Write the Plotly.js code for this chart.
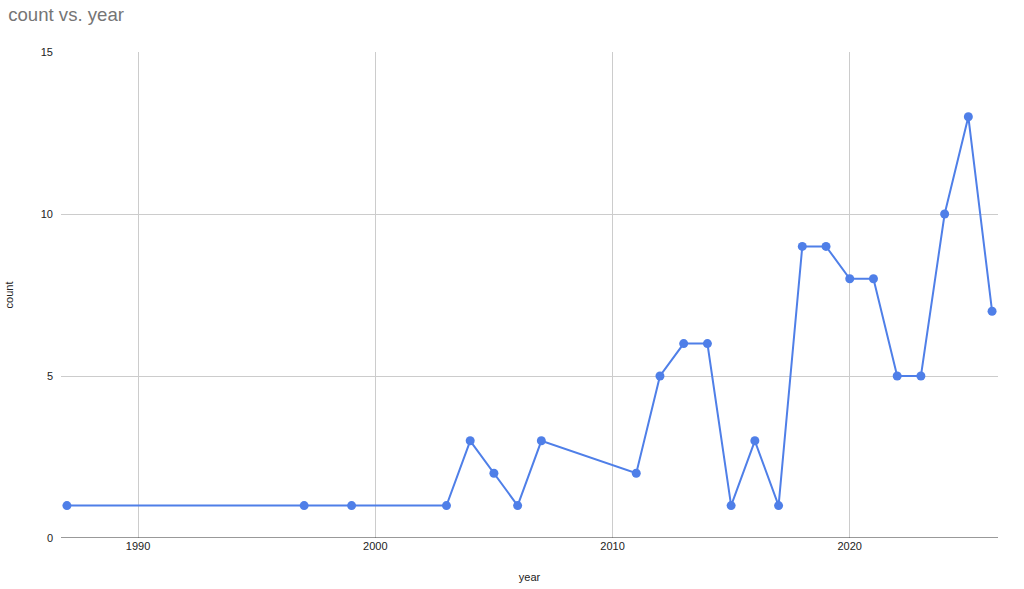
<!DOCTYPE html>
<html><head><meta charset="utf-8">
<script src="https://cdn.plot.ly/plotly-3.0.1.min.js"></script>
<style>html,body{margin:0;padding:0;background:#fff}#chart{width:1024px;height:589px}</style>
</head><body><div id="chart"></div>
<script>
const years = [1987,1997,1999,2003,2004,2005,2006,2007,2011,2012,2013,2014,2015,2016,2017,2018,2019,2020,2021,2022,2023,2024,2025,2026];
const counts = [1,1,1,1,3,2,1,3,2,5,6,6,1,3,1,9,9,8,8,5,5,10,13,7];
const xTicks = [1990,2000,2010,2020];
const yTicks = [0,5,10,15];

const font = "Arial, 'Liberation Sans', sans-serif";
Plotly.newPlot('chart', [{
  x: years, y: counts, type: 'scatter', mode: 'lines+markers',
  line: {color: '#4f7fe8', width: 2},
  marker: {color: '#4f7fe8', size: 9},
  cliponaxis: false, hoverinfo: 'x+y'
}], {
  width: 1024, height: 589,
  margin: {l: 61, r: 26, t: 52, b: 51},
  paper_bgcolor: '#fff', plot_bgcolor: '#fff',
  font: {family: font, size: 11, color: '#222'},
  title: {text: 'count vs. year', x: 0.008, xanchor: 'left', y: 0.975, yanchor: 'middle',
          font: {family: font, size: 18.6, color: '#757575'}},
  xaxis: {range: [1986.75, 2026.25], tickvals: xTicks, ticktext: xTicks.map(String),
          showgrid: true, gridcolor: '#cccccc', zeroline: false, showline: false,
          ticks: '', ticklen: 0, tickfont: {size: 11, color: '#222'},
          title: {text: 'year', font: {size: 11, color: '#222'}, standoff: 22}},
  yaxis: {range: [0, 15], tickvals: yTicks, ticktext: yTicks.map(String),
          showgrid: true, gridcolor: '#cccccc', zeroline: false, showline: false,
          ticks: '', tickfont: {size: 11, color: '#222'}, ticklabelstandoff: 7,
          title: {text: 'count', font: {size: 11, color: '#222'}, standoff: 24}},
  shapes: [{type: 'line', xref: 'paper', yref: 'y', x0: 0, x1: 1, y0: 0, y1: 0,
            line: {color: '#333', width: 1}}],
  showlegend: false
}, {displayModeBar: false, staticPlot: true});
</script></body></html>
